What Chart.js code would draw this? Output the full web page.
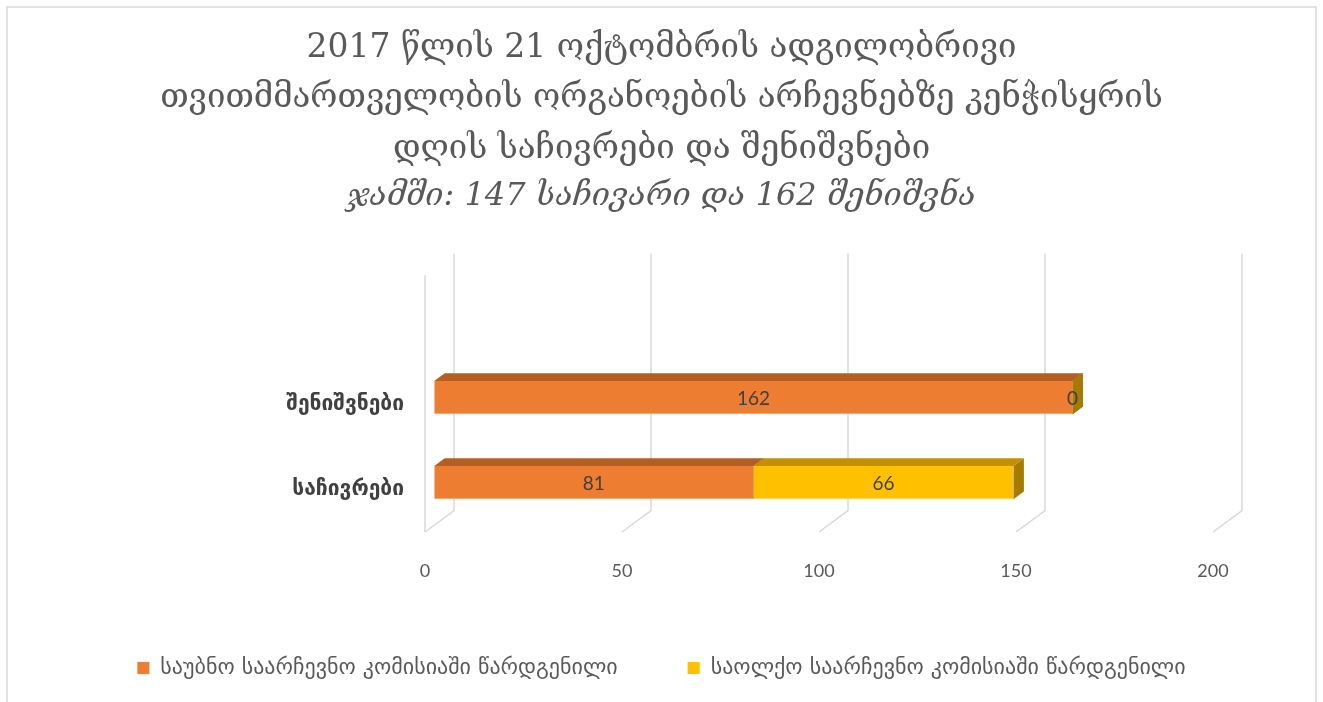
<!DOCTYPE html>
<html>
<head>
<meta charset="utf-8">
<script src="https://cdn.jsdelivr.net/npm/chart.js@4.4.1/dist/chart.umd.min.js"></script>
<style>
  html, body { margin: 0; padding: 0; background: #fff; }
</style>
</head>
<body>
<canvas id="complaintsChart" width="1323" height="702"></canvas>
<script>
// data
let categories = ['შენიშვნები', 'საჩივრები'];
let precinctValues = [162, 81];
let districtValues = [0, 66];
let seriesNames = ['საუბნო საარჩევნო კომისიაში წარდგენილი', 'საოლქო საარჩევნო კომისიაში წარდგენილი'];
let titleLines = [
    '2017 წლის 21 ოქტომბრის ადგილობრივი',
    'თვითმმართველობის ორგანოების არჩევნებზე კენჭისყრის',
    'დღის საჩივრები და შენიშვნები'
];
let subtitleLine = 'ჯამში: 147 საჩივარი და 162 შენიშვნა';
let xTickStep = 50;
let xMax = 200;

// 3d look (pixels)
const wallDepth = { x: 29, y: -21.5 };
const barFront = 0.32, barBack = 0.68;
const wallRise = 87;
const faceColors = [
    { top: '#b55e24', side: '#a8551f' },
    { top: '#c29100', side: '#a57c00' }
];

let depth3d = {
    id: 'depth3d',
    beforeDraw(chart) {
        const ctx = chart.ctx;
        ctx.save();
        ctx.fillStyle = '#fff';
        ctx.fillRect(0, 0, chart.width, chart.height);
        ctx.strokeStyle = '#d9d9d9';
        ctx.lineWidth = 1.5;
        ctx.strokeRect(7, 7, chart.width - 14, chart.height + 20);
        ctx.restore();
    },
    beforeDatasetsDraw(chart) {
        const ctx = chart.ctx;
        const a = chart.chartArea;
        const x = chart.scales.x;
        ctx.save();
        ctx.strokeStyle = '#d9d9d9';
        ctx.lineWidth = 1.5;
        x.ticks.forEach(t => {
            const px = x.getPixelForValue(t.value);
            ctx.beginPath();
            ctx.moveTo(px, a.bottom);
            ctx.lineTo(px + wallDepth.x, a.bottom + wallDepth.y);
            ctx.lineTo(px + wallDepth.x, a.top - wallRise + wallDepth.y);
            ctx.stroke();
        });
        const p0 = x.getPixelForValue(0);
        ctx.beginPath();
        ctx.moveTo(p0, a.top - wallRise);
        ctx.lineTo(p0, a.bottom);
        ctx.stroke();
        ctx.restore();

        // bars sit partway into the depth; this save is closed in afterDatasetsDraw
        ctx.save();
        ctx.translate(barFront * wallDepth.x, barFront * wallDepth.y);
        const dx = (barBack - barFront) * wallDepth.x;
        const dy = (barBack - barFront) * wallDepth.y;
        chart.data.datasets.forEach((ds, i) => {
            chart.getDatasetMeta(i).data.forEach(bar => {
                const p = bar.getProps(['x', 'y', 'height'], true);
                const top = p.y - p.height / 2, bottom = p.y + p.height / 2;
                ctx.fillStyle = faceColors[i].side;
                ctx.beginPath();
                ctx.moveTo(p.x, top);
                ctx.lineTo(p.x + dx, top + dy);
                ctx.lineTo(p.x + dx, bottom + dy);
                ctx.lineTo(p.x, bottom);
                ctx.closePath();
                ctx.fill();
            });
        });
    },
    afterDatasetsDraw(chart) {
        const ctx = chart.ctx;
        const dx = (barBack - barFront) * wallDepth.x;
        const dy = (barBack - barFront) * wallDepth.y;
        chart.data.datasets.forEach((ds, i) => {
            chart.getDatasetMeta(i).data.forEach(bar => {
                const p = bar.getProps(['x', 'y', 'base', 'height'], true);
                const top = p.y - p.height / 2;
                ctx.fillStyle = faceColors[i].top;
                ctx.beginPath();
                ctx.moveTo(p.base, top);
                ctx.lineTo(p.x, top);
                ctx.lineTo(p.x + dx, top + dy);
                ctx.lineTo(p.base + dx, top + dy);
                ctx.closePath();
                ctx.fill();
            });
        });
        // value labels on the front faces
        ctx.font = '19px Lato';
        ctx.fillStyle = '#404040';
        ctx.textAlign = 'center';
        ctx.textBaseline = 'middle';
        chart.data.datasets.forEach((ds, i) => {
            chart.getDatasetMeta(i).data.forEach((bar, j) => {
                const p = bar.getProps(['x', 'y', 'base'], true);
                ctx.fillText(String(ds.data[j]), (p.x + p.base) / 2, p.y + 1);
            });
        });
        ctx.restore();
    }
};

let ctx = document.getElementById('complaintsChart').getContext('2d');
new Chart(ctx, {
    type: 'bar',
    data: {
        labels: categories,
        datasets: [
            {
                label: seriesNames[0],
                data: precinctValues,
                backgroundColor: '#ed7d31',
                borderColor: '#f4a46c',
                borderWidth: { bottom: 1 },
                clip: false
            },
            {
                label: seriesNames[1],
                data: districtValues,
                backgroundColor: '#ffc000',
                borderColor: '#ffd24d',
                borderWidth: { bottom: 1 },
                clip: false
            }
        ]
    },
    options: {
        indexAxis: 'y',
        responsive: false,
        animation: false,
        devicePixelRatio: 1,
        layout: { padding: { top: 0, left: 0, right: 0, bottom: 13 } },
        datasets: { bar: { categoryPercentage: 1, barPercentage: 0.39 } },
        scales: {
            x: {
                stacked: true,
                min: 0,
                max: xMax,
                grid: { display: false },
                border: { display: false },
                ticks: {
                    stepSize: xTickStep,
                    padding: 20,
                    color: '#595959',
                    font: { family: 'Lato', size: 18 }
                },
                afterFit(s) { s.height = 55; }
            },
            y: {
                stacked: true,
                grid: { display: false },
                border: { display: false },
                ticks: {
                    padding: 13,
                    color: '#404040',
                    font: { family: 'DejaVu Sans', size: 21, weight: 'bold' }
                },
                afterFit(s) { s.width = 425; }
            },
            yPad: {
                type: 'linear',
                position: 'right',
                grid: { display: false },
                border: { display: false },
                ticks: { display: false },
                afterFit(s) { s.width = 110; }
            }
        },
        plugins: {
            title: {
                display: true,
                text: titleLines,
                color: '#595959',
                font: { family: 'DejaVu Serif', size: 33, weight: 'normal', lineHeight: 50.5 / 33 },
                padding: { top: 23, bottom: 0 }
            },
            subtitle: {
                display: true,
                text: subtitleLine,
                color: '#595959',
                font: { family: 'DejaVu Serif', size: 32, style: 'italic', lineHeight: 44 / 32 },
                padding: { top: 0, bottom: 143.5 }
            },
            legend: {
                position: 'bottom',
                labels: {
                    boxWidth: 12,
                    boxHeight: 12,
                    padding: 70,
                    color: '#595959',
                    font: { family: 'DejaVu Sans', size: 22 }
                }
            },
            tooltip: { enabled: false }
        }
    },
    plugins: [depth3d]
});
</script>
</body>
</html>
